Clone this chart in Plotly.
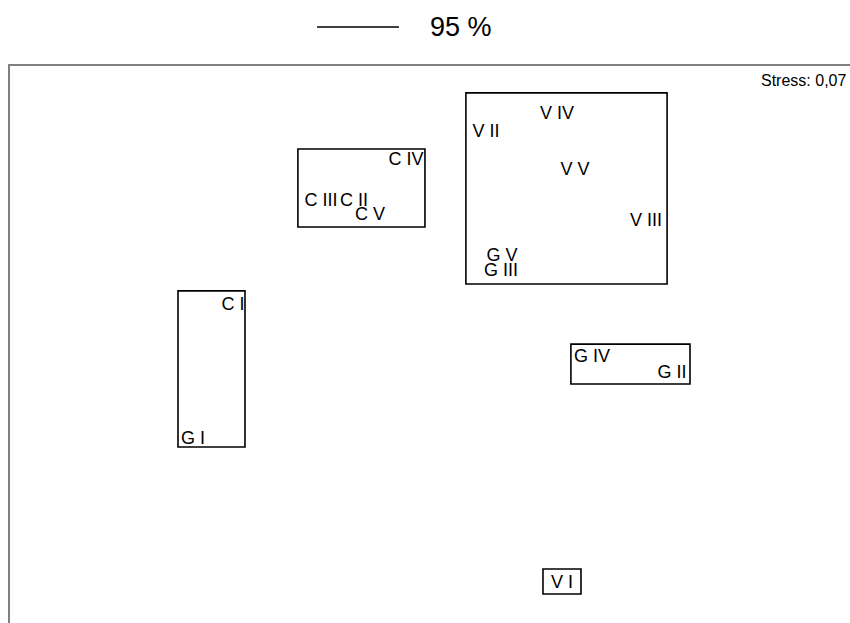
import plotly.graph_objects as go

# NMDS coordinates
labels = ["V IV", "V II", "V V", "V III", "G V", "G III",
          "C IV", "C III", "C II", "C V",
          "C I", "G I", "G IV", "G II", "V I"]
x_vals = [0.605, 0.267, 0.690, 1.029, 0.343, 0.338,
          -0.114, -0.519, -0.362, -0.286,
          -0.938, -1.129, 0.771, 1.152, 0.629]
y_vals = [0.871, 0.786, 0.605, 0.362, 0.196, 0.120,
          0.652, 0.453, 0.453, 0.391,
          -0.038, -0.675, -0.285, -0.361, -1.360]

# 95 % similarity group boxes
box_x0 = [0.171, -0.629, -1.200, 0.671, 0.538]
box_x1 = [1.129, -0.024, -0.881, 1.238, 0.719]
box_y0 = [0.063, 0.334, -0.713, -0.413, -1.412]
box_y1 = [0.972, 0.705, 0.030, -0.223, -1.293]

legend_label = "95 %"
stress_text = "Stress: 0,07"

FONT = "Liberation Sans, Arial, sans-serif"

PLOT_H = 557
PLOT_W = 840
BOTTOM = 623
def py(page_y):
    return (BOTTOM - page_y) / PLOT_H
def px(page_x):
    return (page_x - 10) / PLOT_W

fig = go.Figure()
fig.add_trace(go.Scatter(
    x=x_vals, y=y_vals, mode="text", text=labels,
    textposition="middle center",
    textfont=dict(family=FONT, size=18, color="black"),
    cliponaxis=False, showlegend=False, hoverinfo="text"))

shapes = []
for a, b, c, d in zip(box_x0, box_x1, box_y0, box_y1):
    shapes.append(dict(type="rect", xref="x", yref="y", x0=a, x1=b, y0=c, y1=d,
                       line=dict(color="black", width=1.6), fillcolor="rgba(0,0,0,0)"))
# legend sample line
shapes.append(dict(type="line", xref="paper", yref="paper",
                   x0=px(317), x1=px(399), y0=py(27), y1=py(27),
                   line=dict(color="black", width=1.3)))

fig.update_layout(
    width=850, height=623,
    margin=dict(l=10, r=0, t=66, b=0),
    paper_bgcolor="white", plot_bgcolor="white",
    showlegend=False,
    shapes=shapes,
    xaxis=dict(range=[-2.0, 2.0], showgrid=False, zeroline=False, showticklabels=False,
               ticks="", side="top", showline=True, linecolor="#808080", linewidth=2),
    yaxis=dict(range=[-1.55, 1.1], showgrid=False, zeroline=False,
               showticklabels=False, ticks="", showline=True, linecolor="#808080", linewidth=2),
    annotations=[
        dict(text=legend_label, xref="paper", yref="paper",
             x=px(428), y=py(27), xanchor="left", yanchor="middle",
             showarrow=False, font=dict(family=FONT, size=27, color="black")),
        dict(text=stress_text, xref="paper", yref="paper",
             x=px(848), y=py(80), xanchor="right", yanchor="middle",
             showarrow=False, font=dict(family=FONT, size=16, color="black")),
    ],
)

fig.write_html("out.html",
               config={"displayModeBar": False},
               post_script="document.body.style.margin='0';document.body.style.overflow='hidden';")
